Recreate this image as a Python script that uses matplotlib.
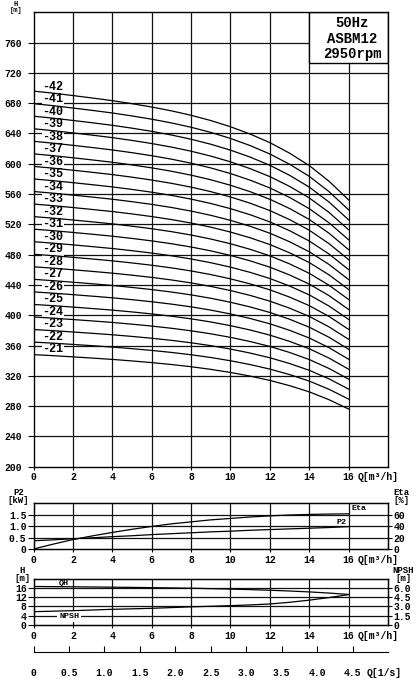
import numpy as np
import matplotlib
matplotlib.use("Agg")
import matplotlib.pyplot as plt
from matplotlib.patches import Rectangle

plt.rcParams['font.family'] = ['Liberation Mono', 'DejaVu Sans']
plt.rcParams['font.weight'] = 'bold'

# flow points [m3/h]
q = [0, 1, 2, 3, 4, 5, 6, 7, 8, 9, 10, 11, 12, 13, 14, 15, 16]
# head of one stage [m]
h_stage = [16.57, 16.505, 16.43, 16.352, 16.27, 16.175, 16.07, 15.95, 15.81,
           15.645, 15.45, 15.22, 14.95, 14.62, 14.23, 13.74, 13.15]
stages = list(range(21, 43))
p2 = [0.36, 0.40, 0.45, 0.49, 0.54, 0.58, 0.63, 0.67, 0.71, 0.75, 0.78,
      0.82, 0.85, 0.88, 0.91, 0.94, 0.98]
eta = [0, 8.5, 16.5, 23, 29, 34.5, 39.5, 44, 47.5, 51, 53.5, 56, 58,
       59.5, 60.5, 61.2, 61.5]
npsh = [2.15, 2.23, 2.31, 2.42, 2.53, 2.61, 2.69, 2.81, 2.93, 3.02, 3.12,
        3.24, 3.39, 3.66, 4.01, 4.42, 4.9]

q_ticks = [0, 2, 4, 6, 8, 10, 12, 14, 16]
ls_ticks = [0, 0.5, 1.0, 1.5, 2.0, 2.5, 3.0, 3.5, 4.0, 4.5]

W, H = 418, 680
fig = plt.figure(figsize=(4.18, 6.8), dpi=100)


def box(top, bottom):
    return [33.5 / W, 1 - bottom / H, 354.5 / W, (bottom - top) / H]


def setup(ax, hgrid, ylo, yhi):
    ax.set_xlim(0, 18)
    ax.set_ylim(ylo, yhi)
    for x in q_ticks[1:]:
        ax.axvline(x, color='#111111', lw=0.9, zorder=1)
    for y in hgrid:
        ax.axhline(y, color='#111111', lw=0.9, zorder=1)
    ax.set_xticks(q_ticks + [17.5])
    ax.set_xticklabels([str(v) for v in q_ticks] + ['Q[m³/h]'])
    ax.xaxis.get_major_ticks()[-1].tick1line.set_visible(False)
    ax.tick_params(axis='x', length=2, pad=2, labelsize=7)
    ax.tick_params(axis='y', length=4, pad=1, labelsize=7)
    for s in ax.spines.values():
        s.set_linewidth(1.0)


# ---------- main Q-H chart
ax1 = fig.add_axes(box(12.3, 466.7))
setup(ax1, range(240, 800, 40), 200, 800)
ax1.set_yticks(range(200, 800, 40))
ax1.tick_params(axis='y', pad=4)
for n in stages:
    hh = [n * v for v in h_stage]
    ax1.plot(q, hh, color='black', lw=0.9, zorder=3)
    ax1.text(0.45, hh[1] + 0.5, '-%d' % n, fontsize=8.5, ha='left', va='bottom',
             zorder=2, bbox=dict(facecolor='white', edgecolor='none', pad=0.3))
ax1.add_patch(Rectangle((14, 733), 4, 67, facecolor='white', edgecolor='black',
                        lw=1.0, zorder=2.5))
ax1.text(16.2, 786, '50Hz', fontsize=10, ha='center', va='center', zorder=4)
ax1.text(16.2, 764.5, 'ASBM12', fontsize=10, ha='center', va='center', zorder=4)
ax1.text(16.2, 745.5, '2950rpm', fontsize=10, ha='center', va='center', zorder=4)
fig.text(16 / W, 1 - 14 / H, 'H\n[m]', fontsize=5, ha='center', va='bottom',
         linespacing=0.9)

# ---------- P2 / Eta chart
ax2 = fig.add_axes(box(503.3, 549))
setup(ax2, [0.5, 1.0, 1.5], 0, 2)
ax2.set_yticks([0, 0.5, 1.0, 1.5])
ax2.set_yticklabels(['0', '0.5', '1.0', '1.5'])
ax2.plot(q, p2, color='black', lw=0.9, zorder=3)
ax2r = ax2.twinx()
ax2r.set_ylim(0, 80)
ax2r.set_yticks([0, 20, 40, 60])
ax2r.tick_params(axis='y', length=3, pad=1, labelsize=7)
ax2r.plot(q, eta, color='black', lw=0.9, zorder=3)
ax2r.set_xlim(0, 18)
ax2.text(16.15, 1.78, 'Eta', fontsize=6, ha='left', va='center')
ax2.text(15.9, 1.15, 'P2', fontsize=6, ha='right', va='center')
fig.text(18.5 / W, 1 - 505 / H, 'P2\n[kW]', fontsize=6.5, ha='center',
         va='bottom', linespacing=0.85)
fig.text(401 / W, 1 - 505 / H, 'Eta\n[%]', fontsize=6.5, ha='center',
         va='bottom', linespacing=0.85)

# ---------- QH / NPSH chart
ax3 = fig.add_axes(box(578.5, 625))
setup(ax3, [4, 8, 12, 16], 0, 20)
ax3.set_yticks([0, 4, 8, 12, 16])
ax3.plot(q, h_stage, color='black', lw=0.9, zorder=3)
ax3r = ax3.twinx()
ax3r.set_ylim(0, 7.5)
ax3r.set_yticks([0, 1.5, 3.0, 4.5, 6.0])
ax3r.set_yticklabels(['0', '1.5', '3.0', '4.5', '6.0'])
ax3r.tick_params(axis='y', length=3, pad=1, labelsize=7)
ax3r.plot(q, npsh, color='black', lw=0.9, zorder=3)
ax3r.set_xlim(0, 18)
ax3.text(1.3, 18, 'QH', fontsize=6, ha='left', va='center')
ax3.text(1.3, 3.7, 'NPSH', fontsize=6, ha='left', va='center', zorder=2,
         bbox=dict(facecolor='white', edgecolor='none', pad=1.5))
fig.text(22.5 / W, 1 - 583 / H, 'H\n[m]', fontsize=6.5, ha='center',
         va='bottom', linespacing=0.85)
fig.text(403 / W, 1 - 583 / H, 'NPSH\n[m]', fontsize=6.5, ha='center',
         va='bottom', linespacing=0.85)

# ---------- Q in l/s scale
ax4 = fig.add_axes([33.5 / W, 1 - 651.5 / H, 354.5 / W, 0.001])
ax4.set_xlim(0, 5)
ax4.set_yticks([])
for s in ['top', 'left', 'right']:
    ax4.spines[s].set_visible(False)
ax4.patch.set_visible(False)
ax4.set_xticks(ls_ticks + [4.95])
ax4.set_xticklabels(['0', '0.5', '1.0', '1.5', '2.0', '2.5', '3.0', '3.5',
                     '4.0', '4.5', 'Q[1/s]'])
ax4.xaxis.get_major_ticks()[-1].tick1line.set_visible(False)
ax4.tick_params(axis='x', direction='in', length=4, pad=12, labelsize=7)

fig.savefig('out.png', dpi=100)
